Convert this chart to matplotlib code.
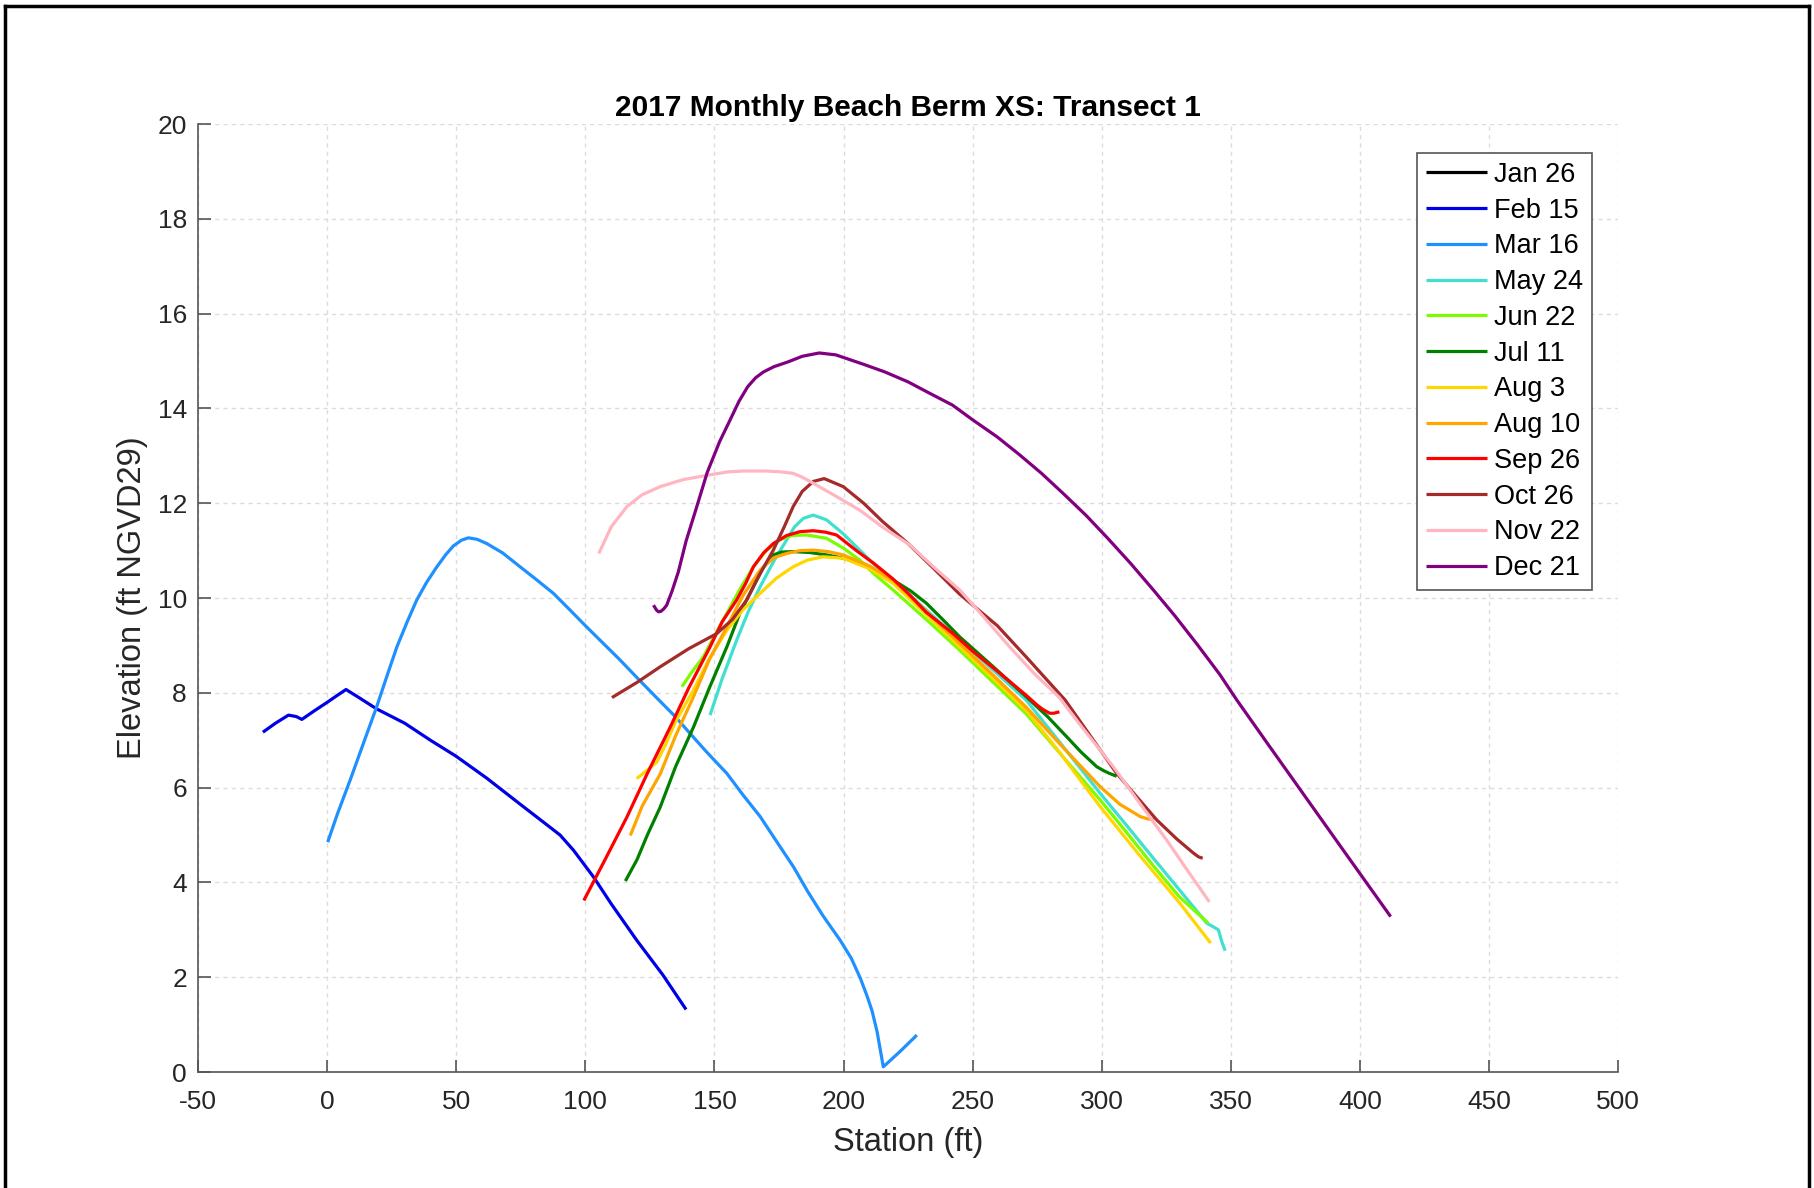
import matplotlib
matplotlib.use("Agg")
import matplotlib.pyplot as plt
from matplotlib.lines import Line2D

# survey dates (legend order)
dates = ['Jan 26', 'Feb 15', 'Mar 16', 'May 24', 'Jun 22', 'Jul 11',
         'Aug 3', 'Aug 10', 'Sep 26', 'Oct 26', 'Nov 22', 'Dec 21']
colors = ['black', '#0000e6', '#1e90ff', '#40e0d0', '#7cfc00', '#008000',
          '#ffd700', '#ffa500', '#ff0000', '#a52a2a', '#ffb6c1', '#800080']

# station (ft) / elevation (ft NGVD29)
jan26_x = []
jan26_y = []

feb15_x = [-24.9, -20, -15.0, -12, -9.8, -5, 0, 4, 7.3, 12, 19.2, 30, 40, 50,
           61.8, 75, 85, 90.2, 95.4, 103.1, 110, 119.9, 130, 139]
feb15_y = [7.17, 7.36, 7.53, 7.50, 7.44, 7.62, 7.80, 7.95, 8.07, 7.91, 7.66,
           7.36, 7.00, 6.66, 6.20, 5.64, 5.22, 5.00, 4.68, 4.12, 3.55, 2.78,
           2.05, 1.32]

mar16_x = [0.2, 4, 8.9, 14, 19.2, 23, 27, 31, 34.7, 38.5, 42.5, 46, 48.9, 52,
           54.7, 58, 61.8, 68, 74.7, 81, 87.6, 94, 100.5, 107, 113.5, 120,
           127, 134.8, 139.3, 147, 154.8, 161, 167.7, 174, 180.6, 186, 192,
           198.7, 203, 206.5, 209, 211, 213, 215.4, 222, 228.4]
mar16_y = [4.85, 5.45, 6.16, 6.93, 7.71, 8.33, 8.97, 9.50, 9.96, 10.33, 10.66,
           10.92, 11.10, 11.22, 11.27, 11.24, 11.15, 10.95, 10.66, 10.39,
           10.10, 9.75, 9.39, 9.04, 8.69, 8.32, 7.93, 7.50, 7.22, 6.75, 6.30,
           5.85, 5.39, 4.87, 4.33, 3.82, 3.30, 2.78, 2.40, 1.98, 1.62, 1.30,
           0.85, 0.11, 0.44, 0.78]

may24_x = [148.3, 153, 158.6, 163, 167.7, 173, 178, 181, 184.4, 188.3, 193.4,
           200, 206.3, 212, 219.2, 232, 245, 258, 270.7, 285, 299.4, 310,
           320, 330, 340.7, 343, 345.2, 346.5, 347.8]
may24_y = [7.53, 8.30, 9.11, 9.70, 10.24, 10.78, 11.23, 11.50, 11.68, 11.75,
           11.65, 11.35, 11.01, 10.70, 10.38, 9.75, 9.11, 8.48, 7.85, 6.87,
           5.88, 5.18, 4.51, 3.85, 3.14, 3.07, 3.00, 2.75, 2.56]

jun22_x = [137.4, 141, 145.7, 150, 154.8, 160, 165.1, 170, 175.4, 180, 185.7,
           193.4, 200, 206.3, 212, 219.2, 232, 245, 258, 270.7, 285, 299.4,
           310, 320, 330, 341.3]
jun22_y = [8.13, 8.42, 8.76, 9.20, 9.68, 10.20, 10.66, 11.00, 11.23, 11.32,
           11.33, 11.26, 11.05, 10.80, 10.50, 10.17, 9.55, 8.90, 8.22, 7.56,
           6.65, 5.74, 5.03, 4.35, 3.70, 3.14]

jul11_x = [115.5, 120, 124, 129, 135, 141.9, 148, 154.8, 160, 165.1, 169,
           172.8, 176, 180.5, 187, 193.4, 200, 206.3, 212, 219.2, 226, 232.1,
           238, 245, 258, 270.7, 279, 286.5, 292, 298.1, 300.7, 303, 305.8]
jul11_y = [4.03, 4.48, 5.00, 5.59, 6.45, 7.28, 8.10, 8.97, 9.70, 10.24, 10.65,
           10.91, 10.97, 10.98, 10.96, 10.91, 10.84, 10.73, 10.58, 10.38,
           10.15, 9.89, 9.57, 9.18, 8.55, 7.92, 7.50, 7.07, 6.75, 6.44, 6.36,
           6.30, 6.24]

aug3_x = [119.9, 124, 127.7, 131, 135, 141.9, 148, 154.8, 161, 167.7, 174,
          180.5, 186, 192.1, 199.9, 210, 219.2, 232, 245, 258, 270.7, 283.6,
          299.4, 315, 330, 342.2]
aug3_y = [6.19, 6.37, 6.54, 6.90, 7.40, 8.06, 8.72, 9.32, 9.75, 10.10, 10.42,
          10.66, 10.80, 10.87, 10.84, 10.62, 10.31, 9.65, 8.97, 8.30, 7.63,
          6.75, 5.60, 4.55, 3.58, 2.72]

aug10_x = [117.4, 122, 129, 135, 141.9, 148, 154.8, 161, 167.7, 173, 178, 183,
           188.3, 194, 199.9, 210, 219.2, 232, 245, 258, 270.7, 285, 299.4,
           307, 314.9, 317.8, 320.3]
aug10_y = [4.99, 5.61, 6.29, 7.10, 7.92, 8.70, 9.39, 10.05, 10.59, 10.85,
           10.94, 11.00, 11.01, 10.98, 10.91, 10.68, 10.38, 9.72, 9.04, 8.37,
           7.70, 6.85, 6.02, 5.65, 5.39, 5.34, 5.33]

sep26_x = [99.4, 108, 116.1, 124, 132.9, 140, 148.3, 153, 158.6, 162, 165.1,
           169, 172.8, 178, 183.1, 188.3, 193, 197.3, 205, 212, 219.2, 225,
           232, 242.2, 250, 259.5, 270.7, 275, 277.2, 279.8, 281.5, 283.6]
sep26_y = [3.62, 4.52, 5.38, 6.30, 7.28, 8.10, 8.97, 9.50, 9.96, 10.30, 10.66,
           10.95, 11.15, 11.32, 11.40, 11.42, 11.39, 11.33, 11.00, 10.72,
           10.40, 10.10, 9.70, 9.26, 8.88, 8.46, 7.95, 7.74, 7.65, 7.57, 7.57,
           7.60]

oct26_x = [110.3, 120, 129, 140, 150.9, 157, 162.5, 167, 172.8, 177, 180.5,
           184, 188.3, 192.5, 199.9, 207.8, 215, 225, 235, 245, 259.5, 270.7,
           285.8, 296, 305.8, 314, 321.3, 329, 335.5, 337.5, 339.1]
oct26_y = [7.90, 8.22, 8.55, 8.93, 9.25, 9.55, 9.96, 10.45, 11.01, 11.50,
           11.93, 12.25, 12.46, 12.52, 12.35, 12.00, 11.62, 11.15, 10.62,
           10.08, 9.42, 8.76, 7.85, 7.06, 6.30, 5.78, 5.32, 4.92, 4.62, 4.54,
           4.51]

nov22_x = [105.2, 110, 116.1, 122, 129, 138, 148.3, 155, 161.2, 170, 176,
           180.5, 184, 188.3, 197, 206.4, 215, 225.7, 235, 245, 254, 264.3,
           274, 283.6, 292, 304.5, 315, 325.2, 333, 341.7]
nov22_y = [10.94, 11.50, 11.93, 12.18, 12.35, 12.50, 12.60, 12.66, 12.68,
           12.68, 12.66, 12.63, 12.55, 12.42, 12.15, 11.85, 11.50, 11.12,
           10.65, 10.17, 9.62, 8.97, 8.40, 7.90, 7.30, 6.44, 5.65, 4.89, 4.27,
           3.59]

dec21_x = [126.4, 127.5, 128.3, 129.3, 130.5, 131.5, 133.6, 136, 139, 143,
           147.2, 152, 156, 159.5, 162.9, 166, 169, 173, 178.4, 184, 190.6,
           197, 207.8, 216, 225, 233, 242.2, 250, 259.5, 268, 276.7, 285, 294,
           302, 311.2, 320, 328.4, 337, 345.7, 352.3, 365, 380, 395, 411.9]
dec21_y = [9.85, 9.75, 9.71, 9.72, 9.78, 9.85, 10.15, 10.55, 11.20, 11.90,
           12.65, 13.30, 13.75, 14.15, 14.46, 14.65, 14.77, 14.88, 14.98,
           15.10, 15.17, 15.13, 14.93, 14.77, 14.56, 14.33, 14.07, 13.76,
           13.40, 13.03, 12.63, 12.21, 11.74, 11.28, 10.73, 10.17, 9.62, 9.02,
           8.39, 7.85, 6.87, 5.72, 4.57, 3.28]

x_ticks = list(range(-50, 501, 50))
y_ticks = list(range(0, 21, 2))

plt.rcParams['font.family'] = ['Liberation Sans', 'DejaVu Sans']
plt.rcParams['axes.unicode_minus'] = False


def main():
    series = [(jan26_x, jan26_y), (feb15_x, feb15_y), (mar16_x, mar16_y),
              (may24_x, may24_y), (jun22_x, jun22_y), (jul11_x, jul11_y),
              (aug3_x, aug3_y), (aug10_x, aug10_y), (sep26_x, sep26_y),
              (oct26_x, oct26_y), (nov22_x, nov22_y), (dec21_x, dec21_y)]

    fig = plt.figure(figsize=(18.14, 11.88), dpi=100)
    ax = fig.add_axes([0.1092, 0.0976, 0.7828, 0.7980])

    for (x, y), label, c in zip(series, dates, colors):
        ax.plot(x, y, color=c, lw=2.3, label=label,
                solid_joinstyle='round', solid_capstyle='butt')

    ax.set_xlim(-50, 500)
    ax.set_ylim(0, 20)
    ax.set_xticks(x_ticks)
    ax.set_yticks(y_ticks)

    # matlab-ish axes: left/bottom only, ticks inside, dashed grid
    for side in ['top', 'right']:
        ax.spines[side].set_visible(False)
    for side in ['left', 'bottom']:
        ax.spines[side].set_color('#555555')
        ax.spines[side].set_linewidth(1.2)
    ax.tick_params(direction='in', length=9, width=1.2, color='#555555',
                   labelsize=19, labelcolor='#262626')
    ax.tick_params(axis='x', pad=13)
    ax.tick_params(axis='y', pad=8)
    ax.grid(True, color='#dcdcdc', linestyle=(0, (3, 3)), linewidth=1.0)
    ax.set_axisbelow(True)

    ax.set_xlabel('Station (ft)', fontsize=23.5, color='#262626', labelpad=9)
    ax.set_ylabel('Elevation (ft NGVD29)', fontsize=23.5, color='#262626',
                  labelpad=7)
    ax.set_title('2017 Monthly Beach Berm XS: Transect 1', fontsize=21.5,
                 fontweight='bold', pad=6)

    leg = ax.legend(loc='upper right', bbox_to_anchor=(0.9817, 0.9694),
                    borderaxespad=0, fontsize=19.5, fancybox=False,
                    framealpha=1, edgecolor='#555555', handlelength=2.25,
                    handletextpad=0.26, labelspacing=0.36, borderpad=0.33)
    leg.get_frame().set_linewidth(1.2)

    # black frame around the figure (no bottom edge visible)
    for xs, ys in [([0.003, 0.003], [0.0, 0.995]),
                   ([0.9975, 0.9975], [0.0, 0.995]),
                   ([0.003, 0.9975], [0.995, 0.995])]:
        fig.add_artist(Line2D(xs, ys, color='black', lw=2.5,
                              transform=fig.transFigure))

    fig.savefig('out.png', dpi=100)


if __name__ == "__main__":
    main()
